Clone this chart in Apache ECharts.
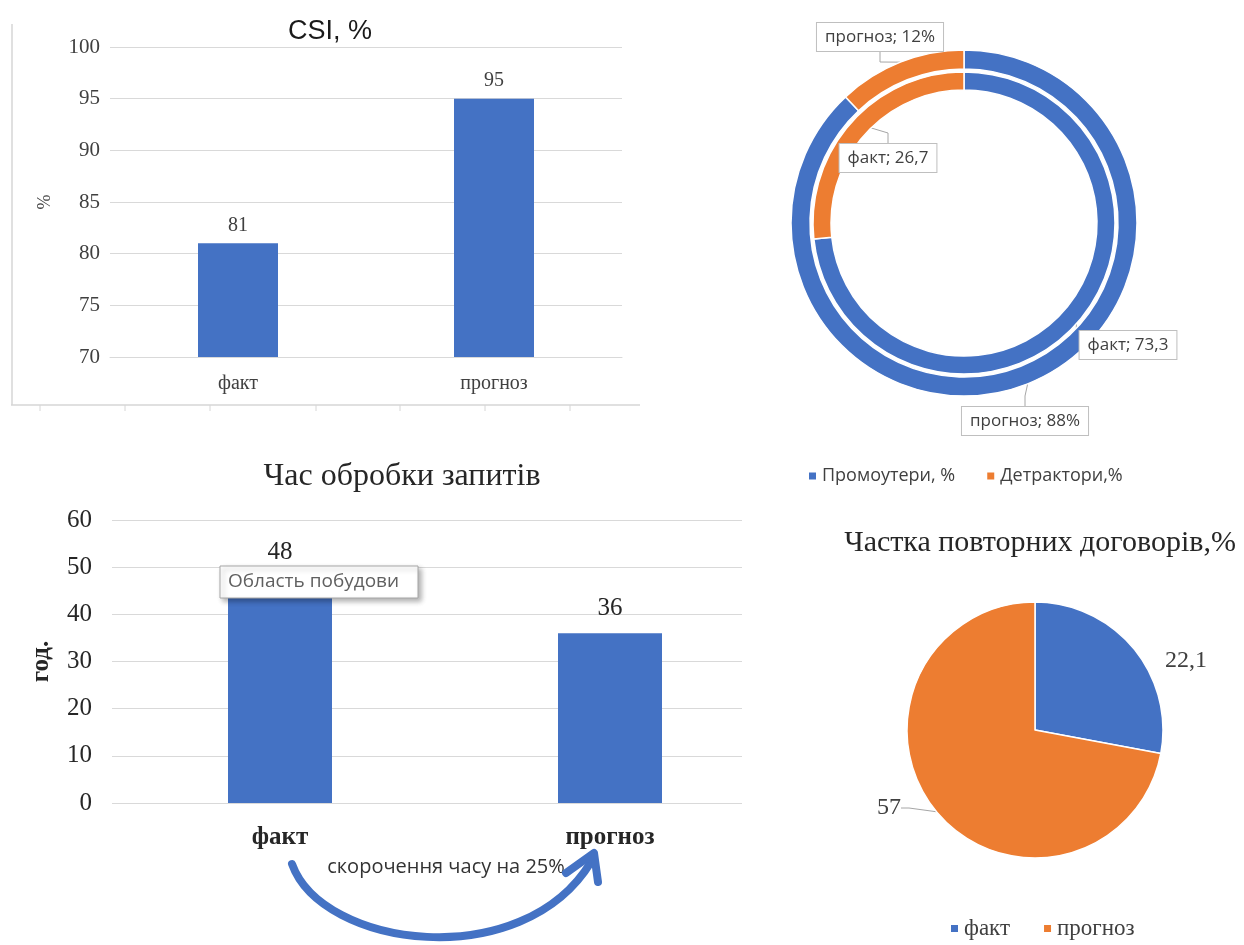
<!DOCTYPE html>
<html>
<head>
<meta charset="utf-8">
<title>CSI, NPS, час обробки, повторні договори</title>
<script src="https://cdn.jsdelivr.net/npm/echarts@6/dist/echarts.min.js"></script>
<style>
  html, body { margin: 0; padding: 0; background: #ffffff; }
  #chart { width: 1244px; height: 945px; }
</style>
</head>
<body>
<div id="chart"></div>
<script>
// CSI, %
const csiCategories = ['факт', 'прогноз'];
const csiValues = [81, 95];
const csiAxis = { min: 70, max: 100, interval: 5 };

// NPS: промоутери / детрактори (внутрішнє кільце — факт, зовнішнє — прогноз)
const npsNames = ['Промоутери, %', 'Детрактори,%'];
const npsFact = [73.3, 26.7];
const npsForecast = [88, 12];

// Час обробки запитів, год.
const timeCategories = ['факт', 'прогноз'];
const timeValues = [48, 36];
const timeAxis = { min: 0, max: 60, interval: 10 };

// Частка повторних договорів, %
const repeatNames = ['факт', 'прогноз'];
const repeatValues = [22.1, 57];

const BLUE = '#4472C4';
const ORANGE = '#ED7D31';
const SERIF = '"Liberation Serif", "Times New Roman", serif';
const SANS = '"Open Sans", "Noto Sans", sans-serif';
const TEXT = '#404040';
const GRID_LINE = '#d9d9d9';

const comma = v => String(v).replace('.', ',');

const chart = echarts.init(document.getElementById('chart'), null, { renderer: 'canvas' });

// fixed spots for the boxed donut labels, per ring and slice
const npsLabelSpots = {
  fact: [[1128, 345], [888, 158]],
  forecast: [[1025, 421], [880, 37]]
};
const repeatLabelSpots = [[1186, 661], [889, 808]];

function spotLayout(spots) {
  return function (params) {
    const p = spots[params.dataIndex];
    return { x: p[0], y: p[1], align: 'center', verticalAlign: 'middle' };
  };
}

const boxedLabel = {
  show: true,
  position: 'outside',
  fontFamily: SANS,
  fontSize: 17,
  color: TEXT,
  backgroundColor: '#ffffff',
  borderColor: '#bfbfbf',
  borderWidth: 1,
  padding: [6, 8, 5, 8]
};

// light frame with ticks along the edge of the CSI panel
const frameTicks = [40, 125, 210, 316, 400, 485, 570];
const frameGraphics = [
  { type: 'line', shape: { x1: 12, y1: 24, x2: 12, y2: 405 }, style: { stroke: '#d6d6d6', lineWidth: 1.5 } },
  { type: 'line', shape: { x1: 11, y1: 405, x2: 640, y2: 405 }, style: { stroke: '#d6d6d6', lineWidth: 1.5 } }
].concat(frameTicks.map(x => ({
  type: 'line', shape: { x1: x, y1: 405, x2: x, y2: 411 }, style: { stroke: '#d6d6d6', lineWidth: 1 }
})));

const option = {
  animation: false,
  backgroundColor: '#ffffff',
  color: [BLUE, ORANGE],
  title: [
    {
      text: 'CSI, %', left: 325, top: 13, textAlign: 'center',
      textStyle: { fontFamily: '"Liberation Sans", Arial, sans-serif', fontSize: 27, fontWeight: 'normal', color: '#1a1a1a' }
    },
    {
      text: 'Час обробки запитів', left: 397, top: 456, textAlign: 'center',
      textStyle: { fontFamily: SERIF, fontSize: 32, fontWeight: 'normal', color: '#262626' }
    },
    {
      text: 'Частка повторних договорів,%', left: 1035, top: 523, textAlign: 'center',
      textStyle: { fontFamily: SERIF, fontSize: 30, fontWeight: 'normal', color: '#262626' }
    }
  ],
  legend: [
    {
      data: npsNames, left: 802, top: 462, icon: 'rect', itemWidth: 9, itemHeight: 9, itemGap: 30,
      selectedMode: false,
      textStyle: { fontFamily: SANS, fontSize: 18, color: '#404040' }
    },
    {
      data: repeatNames, left: 944, top: 912, icon: 'rect', itemWidth: 9, itemHeight: 9, itemGap: 32,
      selectedMode: false,
      textStyle: { fontFamily: SERIF, fontSize: 23, color: '#404040' }
    }
  ],
  grid: [
    { left: 110, right: 1244 - 622, top: 47, bottom: 945 - 357 },
    { left: 112, right: 1244 - 742, top: 520, bottom: 945 - 803 },
    { left: 115, right: 1244 - 775, top: 520, bottom: 945 - 803 }
  ],
  xAxis: [
    {
      gridIndex: 0, type: 'category', data: csiCategories,
      axisLine: { lineStyle: { color: GRID_LINE } }, axisTick: { show: false },
      axisLabel: { fontFamily: SERIF, fontSize: 20, color: TEXT, margin: 17 }
    },
    { gridIndex: 1, type: 'category', data: timeCategories, show: false },
    {
      gridIndex: 2, type: 'category', data: timeCategories,
      axisLine: { show: false }, axisTick: { show: false },
      axisLabel: { fontFamily: SERIF, fontSize: 25, fontWeight: 'bold', color: '#262626', margin: 22 }
    }
  ],
  yAxis: [
    {
      gridIndex: 0, type: 'value', min: csiAxis.min, max: csiAxis.max, interval: csiAxis.interval,
      name: '%', nameLocation: 'middle', nameGap: 56,
      nameTextStyle: { fontFamily: SERIF, fontSize: 18, color: TEXT },
      axisLine: { show: false }, axisTick: { show: false },
      axisLabel: { fontFamily: SERIF, fontSize: 21, color: TEXT, margin: 10 },
      splitLine: { lineStyle: { color: GRID_LINE } }
    },
    {
      gridIndex: 1, type: 'value', min: timeAxis.min, max: timeAxis.max, interval: timeAxis.interval,
      name: 'год.', nameLocation: 'middle', nameGap: 58,
      nameTextStyle: { fontFamily: SERIF, fontSize: 25, fontWeight: 'bold', color: '#262626' },
      axisLine: { show: false }, axisTick: { show: false },
      axisLabel: { fontFamily: SERIF, fontSize: 25, color: '#262626', margin: 20 },
      splitLine: { lineStyle: { color: GRID_LINE } }
    },
    {
      gridIndex: 2, type: 'value', min: timeAxis.min, max: timeAxis.max, interval: timeAxis.interval, show: false
    }
  ],
  series: [
    {
      type: 'bar', xAxisIndex: 0, yAxisIndex: 0, data: csiValues, barWidth: 80,
      itemStyle: { color: BLUE },
      label: { show: true, position: 'top', distance: 8, fontFamily: SERIF, fontSize: 20, color: TEXT }
    },
    {
      type: 'bar', xAxisIndex: 2, yAxisIndex: 2, data: timeValues, barWidth: 104,
      itemStyle: { color: BLUE },
      label: { show: true, position: 'top', distance: 12, fontFamily: SERIF, fontSize: 25, color: '#262626' }
    },
    {
      name: 'NPS прогноз', type: 'pie', center: [964, 223], radius: [154, 173],
      startAngle: 90, clockwise: true,
      itemStyle: { borderColor: '#ffffff', borderWidth: 1.5 },
      data: npsNames.map((n, i) => ({ name: n, value: npsForecast[i] })),
      label: Object.assign({}, boxedLabel, { formatter: p => 'прогноз; ' + comma(p.value) + '%' }),
      labelLine: { show: true, length: 10, length2: 10, lineStyle: { color: '#a6a6a6', width: 1 } },
      labelLayout: spotLayout(npsLabelSpots.forecast)
    },
    {
      name: 'NPS факт', type: 'pie', center: [964, 223], radius: [133, 151],
      startAngle: 90, clockwise: true,
      itemStyle: { borderColor: '#ffffff', borderWidth: 1.5 },
      data: npsNames.map((n, i) => ({ name: n, value: npsFact[i] })),
      label: Object.assign({}, boxedLabel, { formatter: p => 'факт; ' + comma(p.value) }),
      labelLine: { show: true, length: 10, length2: 10, lineStyle: { color: '#a6a6a6', width: 1 } },
      labelLayout: spotLayout(npsLabelSpots.fact)
    },
    {
      name: 'Частка повторних договорів', type: 'pie', center: [1035, 730], radius: 128,
      startAngle: 90, clockwise: true,
      itemStyle: { borderColor: '#ffffff', borderWidth: 1.5 },
      data: repeatNames.map((n, i) => ({
        name: n, value: repeatValues[i],
        labelLine: { show: i === 1 }
      })),
      label: {
        show: true, position: 'outside', formatter: p => comma(p.value),
        fontFamily: SERIF, fontSize: 24, color: TEXT
      },
      labelLine: { length: 8, length2: 8, lineStyle: { color: '#a6a6a6', width: 1 } },
      labelLayout: spotLayout(repeatLabelSpots)
    }
  ],
  graphic: frameGraphics.concat([
    // hover hint box over the first time bar
    {
      type: 'rect', z: 100,
      shape: { x: 220, y: 566, width: 198, height: 32 },
      style: {
        fill: '#ffffff', stroke: '#a6a6a6', lineWidth: 1,
        shadowBlur: 5, shadowOffsetX: 3, shadowOffsetY: 3, shadowColor: 'rgba(0,0,0,0.3)'
      }
    },
    {
      type: 'text', z: 101, x: 228, y: 582,
      style: { text: 'Область побудови', font: '19px ' + SANS, fill: '#606060', verticalAlign: 'middle' }
    },
    // reduction note with curved arrow between the two bars
    {
      type: 'text', z: 100, x: 446, y: 867,
      style: { text: 'скорочення часу на 25%', font: '20px ' + SANS, fill: '#333333', align: 'center', verticalAlign: 'middle' }
    },
    {
      type: 'bezierCurve', z: 102,
      shape: { x1: 292, y1: 864, cpx1: 322, cpy1: 948, cpx2: 522, cpy2: 975, x2: 591, y2: 862 },
      style: { stroke: BLUE, lineWidth: 8, fill: null, lineCap: 'round' }
    },
    {
      type: 'polyline', z: 102,
      shape: { points: [[566, 873], [594, 853], [598, 882]] },
      style: { stroke: BLUE, lineWidth: 8, fill: null, lineCap: 'round', lineJoin: 'round' }
    }
  ])
};

chart.setOption(option);
</script>
</body>
</html>
